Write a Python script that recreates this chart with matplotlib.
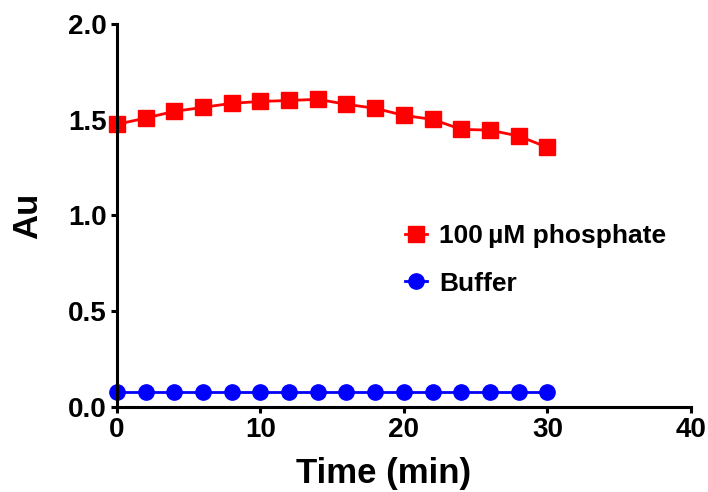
import matplotlib.pyplot as plt

plt.rcParams['font.family'] = ['Liberation Sans', 'DejaVu Sans']
plt.rcParams['font.weight'] = 'bold'

# Dane
time_min = [0, 2, 4, 6, 8, 10, 12, 14, 16, 18, 20, 22, 24, 26, 28, 30]
phosphate = [1.476, 1.509, 1.544, 1.565, 1.586, 1.596, 1.601, 1.607,
             1.581, 1.560, 1.523, 1.502, 1.450, 1.446, 1.415, 1.356]
buffer = [0.08, 0.08, 0.08, 0.08, 0.08, 0.08, 0.08, 0.08,
          0.08, 0.08, 0.08, 0.08, 0.08, 0.08, 0.08, 0.08]
x_ticks = [0, 10, 20, 30, 40]
y_ticks = [0.0, 0.5, 1.0, 1.5, 2.0]
y_tick_labels = ['0.0', '0.5', '1.0', '1.5', '2.0']

fig = plt.figure(figsize=(7.08, 4.92), dpi=100)
ax = fig.add_axes([0.165, 0.173, 0.811, 0.778])

ax.plot(time_min, phosphate, color='#ff0000', marker='s', markersize=12,
        linewidth=2, label='100\u2009µM phosphate', clip_on=False)
ax.plot(time_min, buffer, color='#0000ff', marker='o', markersize=11,
        linewidth=2, label='Buffer', clip_on=False)

ax.set_xlim(0, 40)
ax.set_ylim(0, 2.0)
ax.set_xticks(x_ticks)
ax.set_yticks(y_ticks)
ax.set_yticklabels(y_tick_labels)

for side in ['top', 'right']:
    ax.spines[side].set_visible(False)
for side in ['left', 'bottom']:
    ax.spines[side].set_linewidth(2.2)
ax.tick_params(width=2.2, length=4, labelsize=20, pad=3)
for lbl in ax.get_xticklabels() + ax.get_yticklabels():
    lbl.set_fontweight('bold')

ax.set_xlabel('Time (min)', fontsize=25, fontweight='bold')
ax.set_ylabel('Au', fontsize=25, fontweight='bold')
ax.xaxis.set_label_coords(0.465, -0.13)
ax.yaxis.set_label_coords(-0.127, 0.5)

ax.legend(loc='upper left', bbox_to_anchor=(0.46, 0.54), frameon=False,
          handlelength=0.85, handletextpad=0.45, labelspacing=0.9,
          prop={'weight': 'bold', 'size': 19})

fig.savefig('out.png', dpi=100)
